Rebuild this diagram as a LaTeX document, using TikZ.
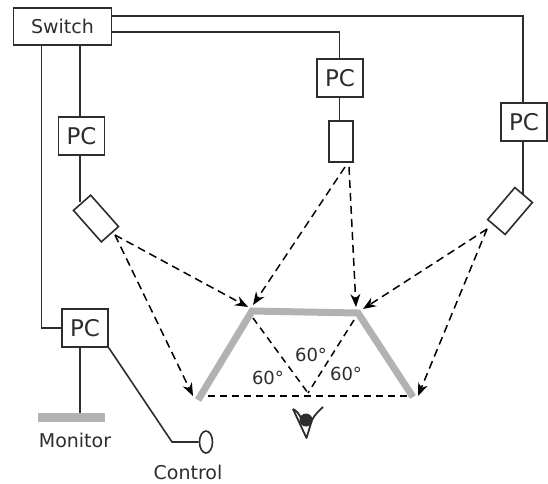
\documentclass[tikz,border=0pt]{standalone}
\usepackage{xcolor}
\usepackage{fontspec}
\setmainfont{DejaVu Sans}
\usetikzlibrary{arrows.meta,positioning,calc,shapes.geometric}
\definecolor{inkdark}{RGB}{45,45,45}
\definecolor{mirrorgray}{RGB}{178,178,178}
\tikzset{
  wire/.style={draw=inkdark, line width=1.6pt},
  pcbox/.style={draw=inkdark, line width=1.6pt, fill=white, minimum width=46pt,
    minimum height=38pt, inner sep=0pt, font=\fontsize{23}{23}\selectfont, text=inkdark},
  cambox/.style={draw=inkdark, line width=1.6pt, fill=white, minimum width=42pt,
    minimum height=23pt, inner sep=0pt},
  beam/.style={draw=black, line width=1.5pt, dash pattern=on 8pt off 5pt,
    -{Stealth[length=13pt,width=10pt]}},
  sight/.style={draw=black, line width=1.5pt, dash pattern=on 7pt off 5pt},
  mirror/.style={draw=mirrorgray, line width=7pt, miter limit=10},
  caption/.style={inner sep=0pt, font=\fontsize{19}{19}\selectfont, text=inkdark},
  angle/.style={inner sep=0pt, font=\fontsize{18}{18}\selectfont, text=inkdark}
}
\begin{document}
\begin{tikzpicture}[x=1pt,y=-1pt]
  \useasboundingbox (0,0) rectangle (548,483);
  % switch and computers
  \node[draw=inkdark, line width=1.6pt, minimum width=98pt, minimum height=37pt, inner sep=0pt,
        font=\fontsize{19}{19}\selectfont, text=inkdark] (switch) at (62.5,26.5) {Switch};
  \node[pcbox] (pcLeft) at (81.5,136) {PC};
  \node[pcbox] (pcMid) at (340,78) {PC};
  \node[pcbox] (pcRight) at (524,122) {PC};
  \node[pcbox] (pcDesk) at (85,328) {PC};
  % cameras
  \node[cambox, rotate=-48.5] (camLeft) at (96,218.5) {};
  \node[cambox, minimum width=24pt, minimum height=41pt] (camMid) at (341,141.5) {};
  \node[cambox, rotate=49.6] (camRight) at (510,211) {};
  % monitor and control
  \node[fill=mirrorgray, minimum width=67pt, minimum height=9pt, inner sep=0pt] (monitor) at (71.5,417.5) {};
  \node[caption] (monitorText) at (75,440) {Monitor};
  \node[draw=inkdark, line width=1.6pt, ellipse, minimum width=13pt, minimum height=22pt, inner sep=0pt] (control) at (206,442) {};
  \node[caption] (controlText) at (188,472) {Control};
  % helper points
  \coordinate (busLeft) at (80,0);
  \coordinate (busDesk) at (41.5,0);
  \coordinate (bend) at (172,442);
  \coordinate (mirrorA) at (198,400);
  \coordinate (mirrorB) at (252,311);
  \coordinate (mirrorC) at (358,313);
  \coordinate (mirrorD) at (413,397);
  \coordinate (beamLeft) at (115,235);
  \coordinate (beamMidA) at (345,167);
  \coordinate (beamMidB) at (349,167);
  \coordinate (beamRight) at (487,229);
  \coordinate (eyePoint) at (308,393);
  % wiring
  \draw[wire] (switch.east |- 0,16) -| (pcRight.north -| 523,0);
  \draw[wire] (switch.east |- 0,32) -| (pcMid.north -| 339.5,0);
  \draw[wire] (switch.south -| busLeft) -- (pcLeft.north -| busLeft);
  \draw[wire] (pcLeft.south -| busLeft) -- (camLeft.west -| busLeft);
  \draw[wire] (pcMid.south -| 339.5,0) -- (camMid.north -| 339.5,0);
  \draw[wire] (pcRight.south -| 523,0) -- (camRight.east -| 523,0);
  \draw[wire] (switch.south -| busDesk) |- (pcDesk.west);
  \draw[wire] (pcDesk.south -| busLeft) -- (monitor.north -| busLeft);
  \draw[wire] (pcDesk.south east) -- (bend) -- (control.west);
  % mirrors
  \draw[mirror] (mirrorA) -- (mirrorB) -- (mirrorC) -- (mirrorD);
  % projection
  \draw[beam] (beamLeft) -- (248,307);
  \draw[beam] (beamLeft) -- (193,396);
  \draw[beam] (beamMidA) -- (253,305);
  \draw[beam] (beamMidB) -- (356,307);
  \draw[beam] (beamRight) -- (363,309);
  \draw[beam] (beamRight) -- (418,396);
  % viewing angles
  \draw[sight] (208,396) -- (412,396);
  \draw[sight] (253,318) -- (eyePoint);
  \draw[sight] (354,320) -- (eyePoint);
  \node[angle] (angleLeft) at (268,378) {60°};
  \node[angle] (angleTop) at (311,355) {60°};
  \node[angle] (angleRight) at (346,374) {60°};
  % viewer
  \draw[inkdark, line width=1.8pt, line join=round] (293,409) -- (306.5,438) -- (312,420) .. controls (315,414) and (319,411) .. (323,407);
  \draw[inkdark, line width=1.8pt] (293,409) .. controls (297,411) and (299,414) .. (301,418);
  \fill[inkdark] (306,420) circle (6.5pt);
\end{tikzpicture}
\end{document}
